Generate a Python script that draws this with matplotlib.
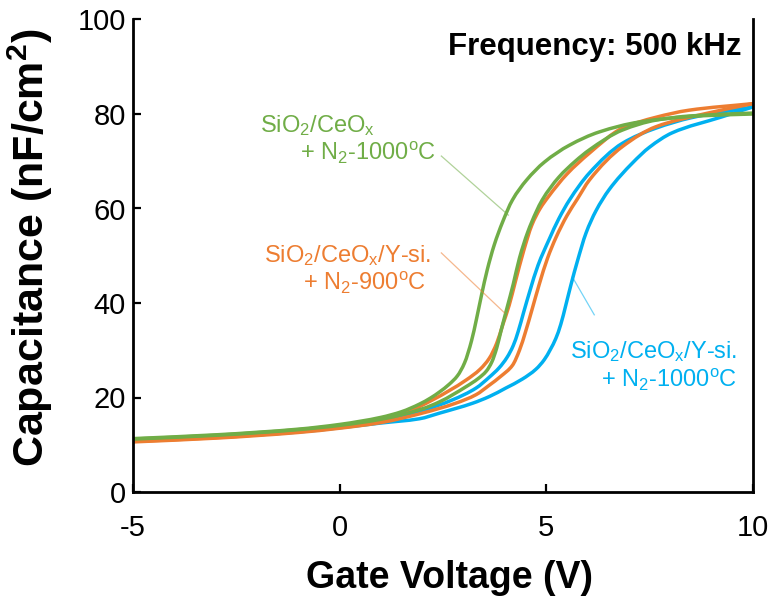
import matplotlib
matplotlib.use("Agg")
import matplotlib.pyplot as plt
from matplotlib.path import Path
from matplotlib.patches import PathPatch

# C-V hysteresis sweeps at 500 kHz (gate voltage in V, capacitance in nF/cm^2)
v_ce_1000_a = [-5, -3, -1, 0, 1.0, 1.5, 1.93, 2.2, 2.42, 2.65, 2.85, 3.02, 3.19, 3.31, 3.43, 3.57,
               3.74, 3.94, 4.18, 4.52, 4.95, 5.56, 6.28, 7.25, 8.7, 10]
c_ce_1000_a = [11.3, 12.1, 13.3, 14.3, 15.8, 17.0, 18.6, 19.9, 21.2, 22.8, 24.6, 27.3, 32.0, 36.6,
               41.6, 47.0, 52.3, 57.1, 61.8, 66.0, 69.8, 73.4, 76.2, 78.3, 79.6, 80.0]
v_ce_1000_b = [-5, -3, -1, 0, 1, 2.0, 2.42, 3.06, 3.35, 3.55, 3.68, 3.80, 3.90, 4.05, 4.2, 4.35,
               4.55, 4.75, 4.90, 5.3, 5.7, 6.04, 6.84, 7.65, 8.5, 10]
c_ce_1000_b = [11.2, 12.0, 13.2, 14.1, 15.4, 17.6, 19.1, 22.3, 24.0, 25.6, 27.5, 30.5, 34.0, 39.0,
               44.0, 49.5, 55.0, 59.2, 61.8, 66.6, 70.0, 72.4, 76.6, 78.7, 79.6, 80.2]

v_ysi_900_a = [-5, -3, -1, 0, 1, 1.6, 2.25, 3.06, 3.4, 3.62, 3.8, 3.95, 4.1, 4.25, 4.45, 4.65, 4.85,
               5.05, 5.5, 6.04, 6.84, 7.65, 8.45, 10]
c_ysi_900_a = [10.7, 11.5, 12.8, 13.8, 15.2, 16.8, 19.5, 23.7, 26.0, 28.3, 31.5, 35.5, 39.5, 44.5,
               51.0, 56.5, 60.0, 62.5, 67.3, 71.7, 77.0, 79.3, 80.8, 82.2]
v_ysi_900_b = [-5, -3, -1, 0, 1, 2.0, 2.81, 3.3, 3.62, 3.9, 4.18, 4.35, 4.5, 4.65, 4.83, 5.03, 5.23,
               5.5, 5.75, 6.04, 6.84, 7.65, 8.86, 10]
c_ysi_900_b = [10.6, 11.4, 12.6, 13.5, 14.7, 16.7, 18.8, 20.6, 22.6, 24.5, 26.8, 30.0, 34.0, 38.5,
               44.0, 49.5, 53.8, 58.5, 62.0, 66.0, 73.1, 77.3, 80.1, 82.2]

v_ysi_1000_a = [-5, -3, -1, 0, 1, 2.0, 2.73, 3.3, 3.62, 3.86, 4.05, 4.2, 4.32, 4.45, 4.6, 4.8, 5.07,
                5.3, 5.56, 6.04, 6.84, 7.65, 8.5, 10]
c_ysi_1000_a = [10.9, 11.7, 12.9, 13.8, 15.0, 17.2, 19.5, 22.0, 24.3, 26.3, 28.5, 31.0, 34.0, 38.0,
                42.5, 48.0, 53.5, 57.8, 61.8, 67.5, 73.8, 77.0, 79.2, 81.5]
v_ysi_1000_b = [-5, -3, -1, 0, 1, 1.93, 2.42, 3.22, 3.62, 4.02, 4.42, 4.75, 4.95, 5.1, 5.23, 5.35,
                5.47, 5.6, 5.75, 5.96, 6.2, 6.52, 7.08, 7.5, 8.04, 9.25, 10]
c_ysi_1000_b = [10.8, 11.6, 12.7, 13.6, 14.6, 15.5, 16.7, 18.8, 20.2, 22.0, 23.9, 26.0, 28.0, 30.2,
                32.5, 35.5, 39.5, 44.0, 48.8, 54.8, 59.5, 64.0, 69.6, 73.0, 76.0, 79.4, 81.5]

x_ticks = [-5, 0, 5, 10]
y_ticks = [0, 20, 40, 60, 80, 100]

GREEN = "#70AD47"
ORANGE = "#ED7D31"
BLUE = "#00B0F0"

plt.rcParams["font.family"] = ["Liberation Sans", "DejaVu Sans"]
plt.rcParams["mathtext.fontset"] = "custom"
plt.rcParams["mathtext.rm"] = "Liberation Sans"
plt.rcParams["mathtext.it"] = "Liberation Sans"
plt.rcParams["mathtext.bf"] = "Liberation Sans:bold"


def smooth_path(xs, ys):
    """Monotone cubic (Fritsch-Carlson) curve through the points, as Bezier segments."""
    n = len(xs)
    h = [xs[i + 1] - xs[i] for i in range(n - 1)]
    d = [(ys[i + 1] - ys[i]) / h[i] for i in range(n - 1)]
    m = [0.0] * n
    m[0], m[-1] = d[0], d[-1]
    for i in range(1, n - 1):
        if d[i - 1] * d[i] <= 0:
            m[i] = 0.0
        else:
            w1 = 2 * h[i] + h[i - 1]
            w2 = h[i] + 2 * h[i - 1]
            m[i] = (w1 + w2) / (w1 / d[i - 1] + w2 / d[i])
    verts = [(xs[0], ys[0])]
    codes = [Path.MOVETO]
    for i in range(n - 1):
        verts += [(xs[i] + h[i] / 3, ys[i] + m[i] * h[i] / 3),
                  (xs[i + 1] - h[i] / 3, ys[i + 1] - m[i + 1] * h[i] / 3),
                  (xs[i + 1], ys[i + 1])]
        codes += [Path.CURVE4] * 3
    return Path(verts, codes)


fig = plt.figure(figsize=(7.76, 6.04), dpi=100)
ax = fig.add_axes([133 / 776, 1 - 492 / 604, 620 / 776, 472.5 / 604])

lw = 2.5
series = [
    (v_ysi_1000_a, c_ysi_1000_a, BLUE),
    (v_ysi_1000_b, c_ysi_1000_b, BLUE),
    (v_ysi_900_a, c_ysi_900_a, ORANGE),
    (v_ysi_900_b, c_ysi_900_b, ORANGE),
    (v_ce_1000_a, c_ce_1000_a, GREEN),
    (v_ce_1000_b, c_ce_1000_b, GREEN),
]
for xs, ys, col in series:
    ax.add_patch(PathPatch(smooth_path(xs, ys), facecolor="none", edgecolor=col,
                           lw=lw, capstyle="butt", joinstyle="round"))

ax.set_xlim(-5, 10)
ax.set_ylim(0, 100)
ax.set_xticks(x_ticks)
ax.set_yticks(y_ticks)
ax.set_xticklabels([str(t) for t in x_ticks])
ax.set_yticklabels([str(t) for t in y_ticks])

for side in ("left", "bottom", "right"):
    ax.spines[side].set_linewidth(2.0)
    ax.spines[side].set_color("black")
ax.spines["top"].set_visible(False)

ax.tick_params(axis="both", direction="in", length=6, width=1.6, labelsize=21, colors="black")
ax.tick_params(axis="x", pad=16)
ax.tick_params(axis="y", pad=5)

ax.set_xlabel("Gate Voltage (V)", fontsize=27, fontweight="bold")
ax.set_ylabel("Capacitance (nF/cm$^\\mathbf{2}$)", fontsize=31, fontweight="bold")
ax.xaxis.set_label_coords((449 - 133) / 620, -(578 - 492) / 472.5)
ax.yaxis.set_label_coords(-(133 - 30) / 620, (492 - 248) / 472.5)
ax.xaxis.label.set_va("center")
ax.yaxis.label.set_va("center")

ax.text(9.71, 92.5, "Frequency: 500 kHz", fontsize=22.5, fontweight="bold",
        ha="right", va="baseline")

fs = 17
# SiO2/CeOx + N2-1000C
ax.text(-1.93, 76.2, "SiO$_2$/CeO$_\\mathrm{x}$", color=GREEN, fontsize=fs, ha="left", va="baseline")
ax.text(-0.97, 70.3, "+ N$_2$-1000$^\\mathrm{o}$C", color=GREEN, fontsize=fs, ha="left", va="baseline")
ax.plot([2.46, 4.08], [71.1, 58.6], color=GREEN, lw=0.9, alpha=0.55)

# SiO2/CeOx/Y-si. + N2-900C
ax.text(2.22, 48.7, "SiO$_2$/CeO$_\\mathrm{x}$/Y-si.", color=ORANGE, fontsize=fs, ha="right", va="baseline")
ax.text(2.10, 42.8, "+ N$_2$-900$^\\mathrm{o}$C", color=ORANGE, fontsize=fs, ha="right", va="baseline")
ax.plot([2.46, 3.99], [50.6, 37.9], color=ORANGE, lw=0.9, alpha=0.55)

# SiO2/CeOx/Y-si. + N2-1000C
ax.text(9.61, 28.4, "SiO$_2$/CeO$_\\mathrm{x}$/Y-si.", color=BLUE, fontsize=fs, ha="right", va="baseline")
ax.text(9.61, 22.2, "+ N$_2$-1000$^\\mathrm{o}$C", color=BLUE, fontsize=fs, ha="right", va="baseline")
ax.plot([6.16, 5.63], [37.5, 45.5], color=BLUE, lw=0.9, alpha=0.55)

fig.savefig("out.png", dpi=100)
